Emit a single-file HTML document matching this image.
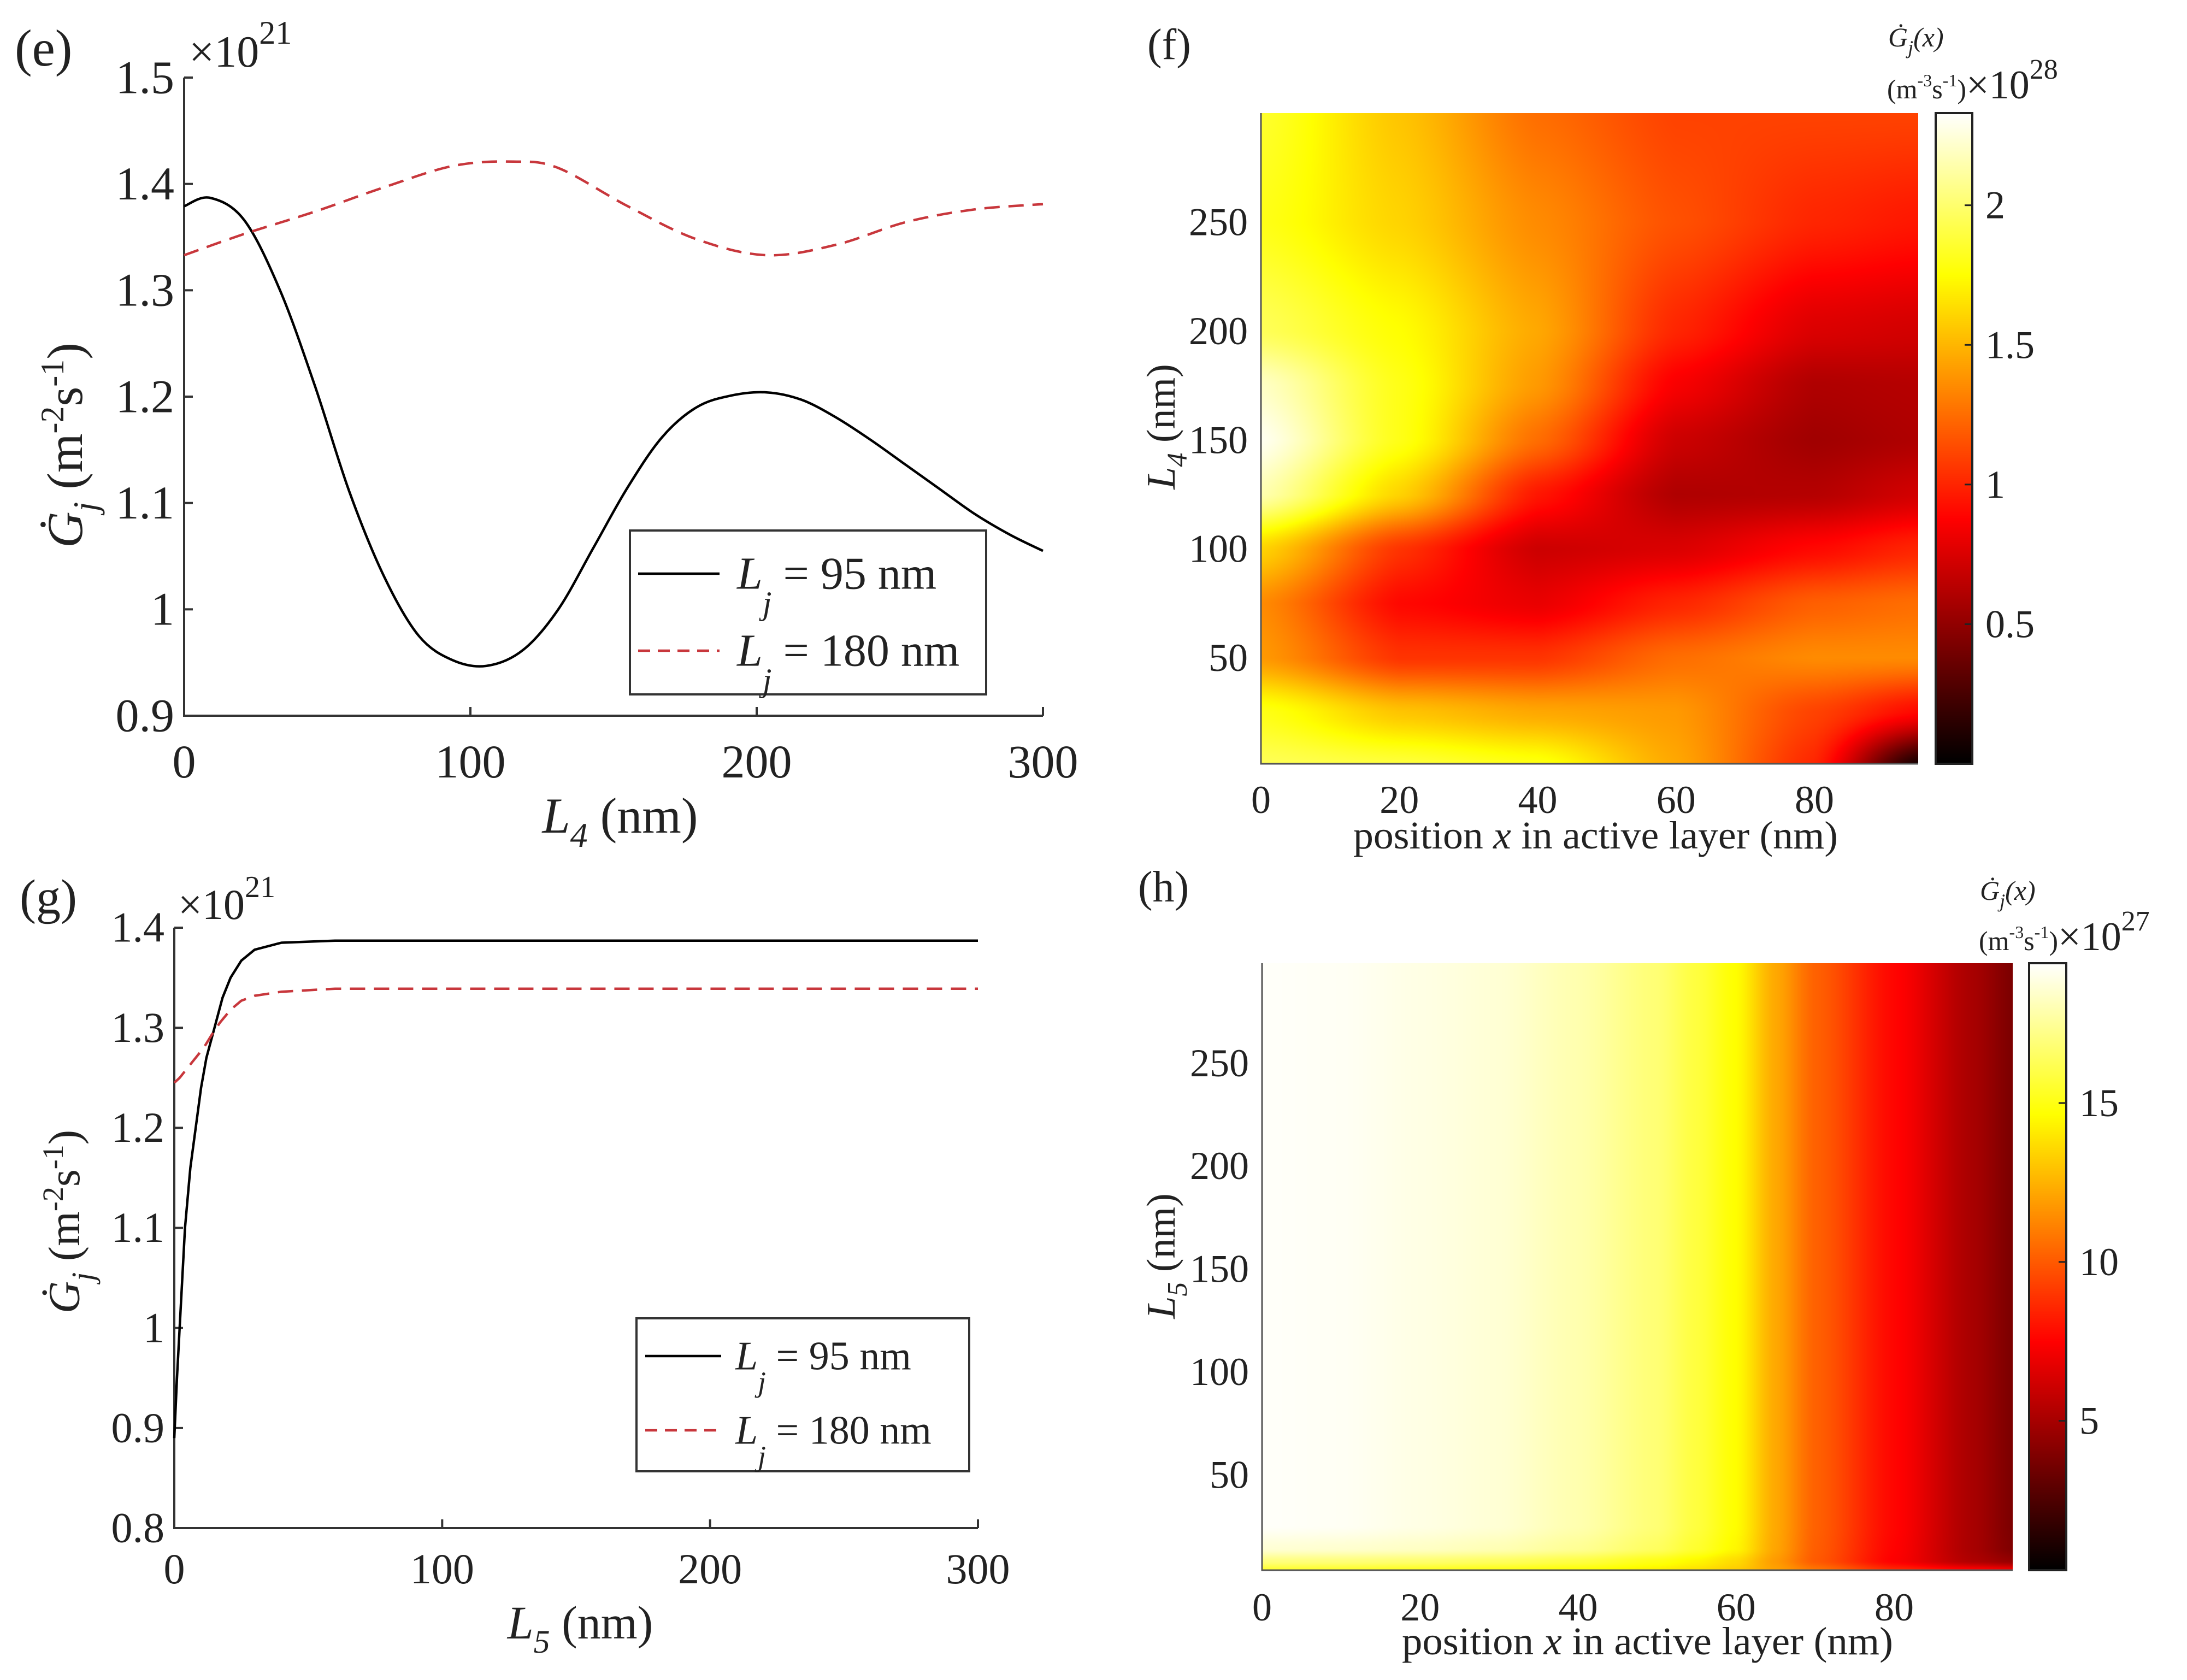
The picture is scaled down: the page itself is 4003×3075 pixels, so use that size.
<!DOCTYPE html>
<html><head><meta charset="utf-8"><title>Figure e-h</title>
<style>
body{margin:0;width:4003px;height:3075px;position:relative;background:#fff;overflow:hidden}
canvas,svg{position:absolute}
svg text{font-family:"Liberation Serif","Times New Roman",serif !important;fill:#222}
</style></head>
<body>
<canvas id="cf" width="1203" height="1191" style="left:2308px;top:207px"></canvas>
<canvas id="cbf" width="67" height="1191" style="left:3543px;top:207px"></canvas>
<canvas id="ch" width="1374" height="1111" style="left:2310px;top:1763px"></canvas>
<canvas id="cbh" width="68" height="1111" style="left:3714px;top:1763px"></canvas>
<svg id="s" width="4003" height="3075" viewBox="0 0 4003 3075" style="left:0;top:0" font-family="Liberation Serif, Times New Roman, serif">
  <text x="27" y="120" font-size="95">(e)</text>
  <text x="346" y="122" font-size="82">×10<tspan dy="-42" font-size="60">21</tspan></text>
  <text transform="translate(150,815) rotate(-90)" text-anchor="middle" font-size="92"><tspan font-style="italic">Ġ</tspan><tspan font-style="italic" font-size="64" dy="28">j</tspan><tspan dy="-28"> (m</tspan><tspan font-size="60" dy="-34">-2</tspan><tspan dy="34">s</tspan><tspan font-size="60" dy="-34">-1</tspan><tspan dy="34">)</tspan></text>
  <text x="1135" y="1524" text-anchor="middle" font-size="92"><tspan font-style="italic">L</tspan><tspan font-style="italic" font-size="64" dy="26">4</tspan><tspan dy="-26"> (nm)</tspan></text>
  <text x="36" y="1672" font-size="90">(g)</text>
  <text x="326" y="1682" font-size="78">×10<tspan dy="-40" font-size="56">21</tspan></text>
  <text transform="translate(145,2236) rotate(-90)" text-anchor="middle" font-size="82"><tspan font-style="italic">Ġ</tspan><tspan font-style="italic" font-size="58" dy="26">j</tspan><tspan dy="-26"> (m</tspan><tspan font-size="54" dy="-30">-2</tspan><tspan dy="30">s</tspan><tspan font-size="54" dy="-30">-1</tspan><tspan dy="30">)</tspan></text>
  <text x="1062" y="2999" text-anchor="middle" font-size="86"><tspan font-style="italic">L</tspan><tspan font-style="italic" font-size="60" dy="26">5</tspan><tspan dy="-26"> (nm)</tspan></text>
  <text x="2100" y="108" font-size="80">(f)</text>
  <text x="3456" y="85" font-size="50" font-style="italic">Ġ<tspan font-size="36" dy="14">j</tspan><tspan dy="-14">(x)</tspan></text>
  <text x="3454" y="180" font-size="50">(m<tspan font-size="32" dy="-22">-3</tspan><tspan dy="22">s</tspan><tspan font-size="32" dy="-22">-1</tspan><tspan dy="22">)</tspan><tspan font-size="74">×10</tspan><tspan font-size="52" dy="-36">28</tspan></text>
  <text transform="translate(2150,781) rotate(-90)" text-anchor="middle" font-size="74"><tspan font-style="italic">L</tspan><tspan font-style="italic" font-size="52" dy="22">4</tspan><tspan dy="-22"> (nm)</tspan></text>
  <text x="2477" y="1553" font-size="72" textLength="887" lengthAdjust="spacingAndGlyphs">position <tspan font-style="italic">x</tspan> in active layer (nm)</text>
  <text x="2083" y="1650" font-size="80">(h)</text>
  <text x="3624" y="1647" font-size="50" font-style="italic">Ġ<tspan font-size="36" dy="14">j</tspan><tspan dy="-14">(x)</tspan></text>
  <text x="3622" y="1739" font-size="50">(m<tspan font-size="32" dy="-22">-3</tspan><tspan dy="22">s</tspan><tspan font-size="32" dy="-22">-1</tspan><tspan dy="22">)</tspan><tspan font-size="74">×10</tspan><tspan font-size="52" dy="-36">27</tspan></text>
  <text transform="translate(2150,2299) rotate(-90)" text-anchor="middle" font-size="74"><tspan font-style="italic">L</tspan><tspan font-style="italic" font-size="52" dy="22">5</tspan><tspan dy="-22"> (nm)</tspan></text>
  <text x="2566" y="3028" font-size="72" textLength="899" lengthAdjust="spacingAndGlyphs">position <tspan font-style="italic">x</tspan> in active layer (nm)</text>
</svg>
<script>
const eBlackX=[0,9,21,33.5,45.7,57.8,70,82,94,106,118.5,130.7,143,155,167,179,191,203.5,215.7,228,240,252,264,276,288.6,300];
const eBlackY=[1.379,1.387,1.366,1.3,1.21,1.11,1.03,0.975,0.952,0.947,0.962,1.0,1.058,1.115,1.162,1.19,1.201,1.204,1.197,1.18,1.159,1.136,1.113,1.09,1.07,1.055];
const eRedX=[0,21,45.7,70,94,115,130.7,155,179,203.5,228,252,276,300];
const eRedY=[1.333,1.353,1.374,1.397,1.417,1.421,1.415,1.379,1.348,1.333,1.343,1.364,1.376,1.381];
const eXTicks=[0,100,200,300];
const eYTicks=[0.9,1,1.1,1.2,1.3,1.4,1.5];
const eYTickLabels=["0.9","1","1.1","1.2","1.3","1.4","1.5"];
const gBlackX=[0,1,2,3,4,6,8,10,12,15,18,21,25,30,40,60,300];
const gBlackY=[0.89,0.95,1.0,1.05,1.1,1.16,1.2,1.24,1.27,1.3,1.33,1.35,1.367,1.378,1.385,1.387,1.387];
const gRedX=[0,2,5,8,11,14,17,21,25,30,40,60,300];
const gRedY=[1.245,1.25,1.26,1.27,1.28,1.293,1.305,1.318,1.327,1.332,1.336,1.339,1.339];
const gXTicks=[0,100,200,300];
const gYTicks=[0.8,0.9,1,1.1,1.2,1.3,1.4];
const gYTickLabels=["0.8","0.9","1","1.1","1.2","1.3","1.4"];
const fX=[0,20,40,60,80,95];
const fL=[0,25,50,75,100,125,150,175,200,250,300];
const fVals=[
 [1.95,1.9,1.8,1.45,1.0,0.05],
 [1.8,1.55,1.45,1.4,1.1,0.9],
 [1.4,1.05,1.05,1.25,1.35,1.35],
 [1.35,0.9,0.8,1.0,1.2,1.25],
 [1.6,1.05,0.7,0.75,0.9,1.0],
 [2.15,1.6,0.95,0.6,0.62,0.72],
 [2.3,1.8,1.25,0.7,0.55,0.6],
 [2.2,1.8,1.4,0.85,0.6,0.62],
 [1.95,1.75,1.45,1.0,0.75,0.72],
 [1.8,1.6,1.35,1.15,1.0,0.95],
 [1.85,1.55,1.25,1.1,1.1,1.1]];
const fXTicks=[0,20,40,60,80];
const fYTicks=[50,100,150,200,250];
const fCTicks=[0.5,1,1.5,2];
const fCTickLabels=["0.5","1","1.5","2"];
const hX=[0,10,20,30,40,50,55,60,65,70,80,90,95];
const hL=[3.7,8,14,25,300];
const hVals=[
 [15.5,15.4,15.2,15,14.7,14.2,13.8,13.2,12,10.8,8.6,7.6,7.2],
 [17,16.9,16.7,16.4,15.9,15,14.4,13.6,11.8,10,7.4,5.2,4.5],
 [18.6,18.5,18.3,18,17.4,16.4,15.5,14.4,12.1,10.1,7.5,5,3.9],
 [19.3,19.2,18.9,18.6,17.9,16.8,15.8,14.6,12.2,10.2,7.6,5.0,3.8],
 [19.3,19.2,18.9,18.6,17.9,16.8,15.8,14.6,12.2,10.2,7.6,5.0,3.8]];
const hXTicks=[0,20,40,60,80];
const hYTicks=[50,100,150,200,250];
const hCTicks=[5,10,15];

const NS="http://www.w3.org/2000/svg";
const svg=document.getElementById('s');
function mk(tag,attrs,parent){const el=document.createElementNS(NS,tag);for(const k in attrs)el.setAttribute(k,attrs[k]);(parent||svg).appendChild(el);return el;}
function lin(d0,d1,r0,r1){return v=>r0+(v-d0)/(d1-d0)*(r1-r0);}
function smoothPath(px,py){
  let d="M"+px[0]+","+py[0];
  for(let i=0;i<px.length-1;i++){
    const x0=px[Math.max(i-1,0)],y0=py[Math.max(i-1,0)],x1=px[i],y1=py[i],x2=px[i+1],y2=py[i+1],x3=px[Math.min(i+2,px.length-1)],y3=py[Math.min(i+2,px.length-1)];
    const c1x=x1+(x2-x0)/6,c1y=y1+(y2-y0)/6,c2x=x2-(x3-x1)/6,c2y=y2-(y3-y1)/6;
    d+=" C"+c1x.toFixed(1)+","+c1y.toFixed(1)+" "+c2x.toFixed(1)+","+c2y.toFixed(1)+" "+x2.toFixed(1)+","+y2.toFixed(1);
  }
  return d;
}
function linePath(px,py){return px.map((x,i)=>(i?"L":"M")+x.toFixed(1)+","+py[i].toFixed(1)).join(" ");}

function lineChart(cfg){
  const sx=lin(cfg.x0,cfg.x1,cfg.L,cfg.R), sy=lin(cfg.y0,cfg.y1,cfg.B,cfg.T);
  const ax=mk('path',{d:`M${cfg.L},${cfg.T} L${cfg.L},${cfg.B} L${cfg.R},${cfg.B}`,fill:'none',stroke:'#333','stroke-width':4});
  
  
  cfg.xt.forEach(v=>{
    const t=mk('line',{x1:sx(v),x2:sx(v),y1:cfg.B,y2:cfg.B-16,stroke:'#333','stroke-width':4});
    
    
    const l=mk('text',{x:sx(v),y:cfg.xlY,'text-anchor':'middle','font-size':cfg.fs});
    l.textContent=String(v);
    
    
  });
  cfg.yt.forEach((v,i)=>{
    const t=mk('line',{x1:cfg.L,x2:cfg.L+16,y1:sy(v),y2:sy(v),stroke:'#333','stroke-width':4});
    
    
    const l=mk('text',{x:cfg.L-18,y:sy(v)+cfg.fs*0.33,'text-anchor':'end','font-size':cfg.fs});
    l.textContent=cfg.ytl[i];
    
    
  });
  const pf=cfg.smooth?smoothPath:linePath;
  const b=mk('path',{d:pf(cfg.bx.map(sx),cfg.by.map(sy)),fill:'none',stroke:'#000','stroke-width':4.5,'stroke-linejoin':'round'});
  
  
  const r=mk('path',{d:pf(cfg.rx.map(sx),cfg.ry.map(sy)),fill:'none',stroke:'#c8373c','stroke-width':4.5,'stroke-dasharray':'28 16'});
  
  
  const lg=cfg.lg;
  const box=mk('rect',{x:lg.x,y:lg.y,width:lg.w,height:lg.h,fill:'#fff',stroke:'#333','stroke-width':4});
  
  
  const labels=["95","180"];
  [0,1].forEach(k=>{
    const ly=lg.rows[k];
    const ln=mk('line',{x1:lg.lx0,x2:lg.lx1,y1:ly,y2:ly,stroke:k?'#c8373c':'#000','stroke-width':4.5,'stroke-dasharray':k?'22 14':'none'});
    
    
    const tx=mk('text',{x:lg.tx,y:ly+lg.fs*0.33,'font-size':lg.fs});
    tx.innerHTML='<tspan font-style="italic">L</tspan><tspan font-style="italic" font-size="'+(lg.fs*0.72)+'" dy="'+(lg.fs*0.55)+'">j</tspan><tspan dy="'+(-lg.fs*0.55)+'"> = '+labels[k]+' nm</tspan>';
    
    
  });
}
lineChart({id:'panel-e',L:337,R:1909,T:142,B:1310,x0:0,x1:300,y0:0.9,y1:1.5,xt:eXTicks,yt:eYTicks,ytl:eYTickLabels,fs:86,xlY:1423,smooth:true,
  bx:eBlackX,by:eBlackY,rx:eRedX,ry:eRedY,
  lg:{x:1153,y:971,w:652,h:300,rows:[1050,1191],lx0:1168,lx1:1317,tx:1349,fs:84}});
lineChart({id:'panel-g',L:319,R:1790,T:1698,B:2797,x0:0,x1:300,y0:0.8,y1:1.4,xt:gXTicks,yt:gYTicks,ytl:gYTickLabels,fs:78,xlY:2898,smooth:false,
  bx:gBlackX,by:gBlackY,rx:gRedX,ry:gRedY,
  lg:{x:1165,y:2413,w:609,h:280,rows:[2482,2618],lx0:1181,lx1:1320,tx:1346,fs:74}});

function hot(t){t=Math.max(0,Math.min(1,t));
  const r=Math.min(1,t/0.375),g=Math.max(0,Math.min(1,(t-0.375)/0.375)),b=Math.max(0,Math.min(1,(t-0.75)/0.25));
  return [r*255,g*255,b*255];}
function seg(arr,v){let i=0;while(i<arr.length-2&&v>arr[i+1])i++;let f=(v-arr[i])/(arr[i+1]-arr[i]);f=Math.max(0,Math.min(1,f));return [i,f];}
function sm(f){return f*f*(3-2*f);}
function interp(xs,ys,grid,x,y){
  let [i,fx]=seg(xs,x),[j,fy]=seg(ys,y);
  fx=(fx+sm(fx))/2; fy=(fy+sm(fy))/2;
  const a=grid[j][i]*(1-fx)+grid[j][i+1]*fx, b=grid[j+1][i]*(1-fx)+grid[j+1][i+1]*fx;
  return a*(1-fy)+b*fy;
}
function heat(cfg){
  const cv=document.getElementById(cfg.canvas),ctx=cv.getContext('2d');
  const W=cv.width,H=cv.height,img=ctx.createImageData(W,H);
  const colX=[];for(let px=0;px<W;px++)colX.push(cfg.x0+(px+0.5)/W*(cfg.x1-cfg.x0));
  for(let py=0;py<H;py++){
    const yv=cfg.y1-(py+0.5)/H*(cfg.y1-cfg.y0);
    for(let px=0;px<W;px++){
      const v=interp(cfg.xs,cfg.ys,cfg.vals,colX[px],yv);
      const c=hot((v-cfg.c0)/(cfg.c1-cfg.c0)),o=(py*W+px)*4;
      img.data[o]=c[0];img.data[o+1]=c[1];img.data[o+2]=c[2];img.data[o+3]=255;
    }
  }
  ctx.putImageData(img,0,0);
  const cb=document.getElementById(cfg.cbar),cc=cb.getContext('2d');
  for(let py=0;py<cb.height;py++){const c=hot(1-(py+0.5)/cb.height);cc.fillStyle=`rgb(${c[0]|0},${c[1]|0},${c[2]|0})`;cc.fillRect(0,py,cb.width,1);}
  const sx=lin(cfg.x0,cfg.x1,cfg.L,cfg.R),sy=lin(cfg.y0,cfg.y1,cfg.B,cfg.T),sc=lin(cfg.c0,cfg.c1,cfg.B,cfg.T);
  const ax=mk('path',{d:`M${cfg.L},${cfg.T} L${cfg.L},${cfg.B} L${cfg.R},${cfg.B}`,fill:'none',stroke:'#555','stroke-width':3});
  
  
  cfg.xt.forEach(v=>{
    const l=mk('text',{x:sx(v),y:cfg.xlY,'text-anchor':'middle','font-size':72});
    l.textContent=String(v);
    
    
  });
  cfg.yt.forEach(v=>{
    const l=mk('text',{x:cfg.L-24,y:sy(v)+24,'text-anchor':'end','font-size':72});
    l.textContent=String(v);
    
    
  });
  const cbx=mk('rect',{x:cfg.cL,y:cfg.T,width:cfg.cR-cfg.cL,height:cfg.B-cfg.T,fill:'none',stroke:'#222','stroke-width':4});
  
  
  cfg.ct.forEach((v,i)=>{
    const t=mk('line',{x1:cfg.cR-14,x2:cfg.cR,y1:sc(v),y2:sc(v),stroke:'#222','stroke-width':3});
    
    
    const l=mk('text',{x:cfg.cR+24,y:sc(v)+24,'font-size':72});
    l.textContent=cfg.ctl?cfg.ctl[i]:String(v);
    
    
  });
}
heat({id:'panel-f',canvas:'cf',cbar:'cbf',xs:fX,ys:fL,vals:fVals,x0:0,x1:95,y0:1.4,y1:300,c0:0,c1:2.33,
  L:2308,R:3511,T:207,B:1398,cL:3543,cR:3610,xt:fXTicks,yt:fYTicks,ct:fCTicks,ctl:fCTickLabels,xlY:1488});
heat({id:'panel-h',canvas:'ch',cbar:'cbh',xs:hX,ys:hL,vals:hVals,x0:0,x1:95,y0:3.7,y1:298.5,c0:0.3,c1:19.4,
  L:2310,R:3684,T:1763,B:2874,cL:3714,cR:3782,xt:hXTicks,yt:hYTicks,ct:hCTicks,xlY:2966});
</script>
</body></html>
